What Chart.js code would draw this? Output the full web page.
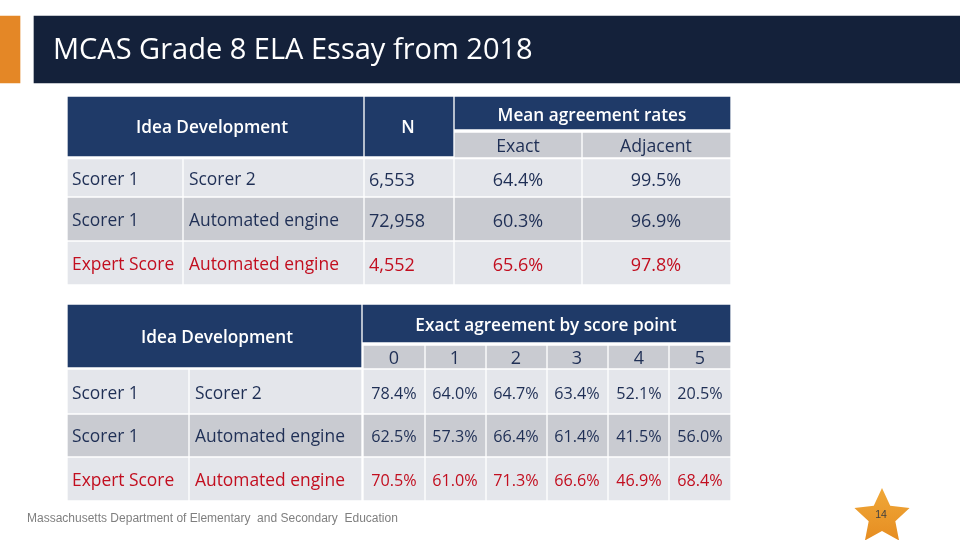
<!DOCTYPE html>
<html><head><meta charset="utf-8">
<style>html,body{margin:0;padding:0;background:#fff}canvas{display:block}</style>
<script src="https://cdn.jsdelivr.net/npm/chart.js@4"></script></head>
<body><canvas id="c" width="960" height="540"></canvas>
<script>
// ---- data ----
const titleText = "MCAS Grade 8 ELA Essay from 2018";
const sectionLabel = "Idea Development";
const pairFirst = ["Scorer 1", "Scorer 1", "Expert Score"];
const pairSecond = ["Scorer 2", "Automated engine", "Automated engine"];
const counts = ["6,553", "72,958", "4,552"];
const exactRates = [64.4, 60.3, 65.6];
const adjacentRates = [99.5, 96.9, 97.8];
const scorePoints = ["0", "1", "2", "3", "4", "5"];
const scoreRow1 = [78.4, 64.0, 64.7, 63.4, 52.1, 20.5];
const scoreRow2 = [62.5, 57.3, 66.4, 61.4, 41.5, 56.0];
const scoreRow3 = [70.5, 61.0, 71.3, 66.6, 46.9, 68.4];
const footerText = "Massachusetts Department of Elementary  and Secondary  Education";
const pageNumber = "14";

// ---- layout & style ----
const NAVY="#1f3a68", DARK="#14213a", ORANGE="#e48726", LIGHT="#e4e6eb", MID="#c9cbd1", INK="#1f2f55", RED="#c20e1f";
const FONT='"Open Sans"';
const t1Cols=[[68,182],[184,363],[365,453],[455,581],[583,730]];
const t1Rows=[[159.5,196,LIGHT],[198,240,MID],[242,284,LIGHT]];
const t2Left=[[68,188],[190,361]];
const t2Cols=[[364,424],[426,485],[487,546],[548,607],[609,668],[670,730]];
const t2Rows=[[370,413,LIGHT],[415,456,MID],[458,500,LIGHT]];
const rects=[
 [0,20,16,83,ORANGE],[34,960,16,83,DARK],
 [68,363,97,156,NAVY],[365,453,97,156,NAVY],[455,730,97,129,NAVY],
 [455,581,133,157,MID],[583,730,133,157,MID],
 [68,361,305,367,NAVY],[363,730,305,342,NAVY],
];
t1Rows.forEach(r=>t1Cols.forEach(c=>rects.push([c[0],c[1],r[0],r[1],r[2]])));
t2Cols.forEach(c=>rects.push([c[0],c[1],346,368,MID]));
t2Rows.forEach(r=>[...t2Left,...t2Cols].forEach(c=>rects.push([c[0],c[1],r[0],r[1],r[2]])));
// one floating bar per rectangle, drawn through the chart's scales
const datasets=rects.map(r=>({
  data:[{x:[r[0],r[1]],y:(r[2]+r[3])/2}],
  barThickness:r[3]-r[2], backgroundColor:r[4], borderWidth:0, borderSkipped:false
}));
const pct=v=>v.toFixed(1)+"%";

const textLayer={id:"textLayer",afterDatasetsDraw(chart){
  const {ctx,scales:{x:X,y:Y}}=chart;
  const put=(s,x,y,size,color,o={})=>{
    ctx.save();
    ctx.font=(o.bold?"600 ":"")+size+"px "+(o.font||FONT);
    ctx.fillStyle=color; ctx.textAlign=o.align||"center"; ctx.textBaseline="middle";
    if(o.ls) ctx.letterSpacing=o.ls+"px";
    ctx.fillText(s,X.getPixelForValue(x),Y.getPixelForValue(y+1.5));
    ctx.restore();
  };
  put(titleText,53,49,29,"#ffffff",{align:"left"});
  put(sectionLabel,212,127,17.2,"#ffffff",{bold:true});
  put("N",408,127,17.2,"#ffffff",{bold:true});
  put("Mean agreement rates",592,115,17.2,"#ffffff",{bold:true});
  put("Exact",518,145,17.7,INK);
  put("Adjacent",656,145,17.7,INK);
  const ys1=[179,220,264], ys2=[393,436,480];
  ys1.forEach((y,i)=>{
    const c=i==2?RED:INK;
    put(pairFirst[i],72,y,17.4,c,{align:"left"});
    put(pairSecond[i],189,y,17.4,c,{align:"left"});
    put(counts[i],369,y,18,c,{align:"left"});
    put(pct(exactRates[i]),518,y,18,c);
    put(pct(adjacentRates[i]),656,y,18,c);
  });
  put(sectionLabel,217,337,17.2,"#ffffff",{bold:true});
  put("Exact agreement by score point",546,325,17.2,"#ffffff",{bold:true});
  const cx=[394,455,516,577,639,700];
  scorePoints.forEach((s,i)=>put(s,cx[i],357,18,INK));
  [scoreRow1,scoreRow2,scoreRow3].forEach((row,i)=>{
    const c=i==2?RED:INK;
    put(pairFirst[i],72,ys2[i],17.4,c,{align:"left"});
    put(pairSecond[i],195,ys2[i],17.4,c,{align:"left"});
    row.forEach((v,j)=>put(pct(v),cx[j],ys2[i],16.2,c));
  });
  put(footerText,27,517,12,"#7f7f7f",{align:"left",font:'"Liberation Sans"'});
  // page star
  const px=X.getPixelForValue(882), py=Y.getPixelForValue(517), R=29, r=14;
  const g=ctx.createLinearGradient(0,py-R,0,py+R);
  g.addColorStop(0,"#f0a838"); g.addColorStop(1,"#e58a1f");
  ctx.beginPath();
  for(let i=0;i<10;i++){
    const a=-Math.PI/2+i*Math.PI/5, q=i%2?r:R;
    ctx[i?"lineTo":"moveTo"](px+q*Math.cos(a),py+q*Math.sin(a));
  }
  ctx.closePath(); ctx.fillStyle=g; ctx.fill();
  put(pageNumber,881,514,10.5,"#404040",{font:'"Liberation Sans"'});
}};

new Chart(document.getElementById("c"),{
  type:"bar",
  data:{datasets},
  plugins:[textLayer],
  options:{
    indexAxis:"y",responsive:false,animation:false,devicePixelRatio:1,
    layout:{padding:0},
    datasets:{bar:{grouped:false}},
    plugins:{legend:{display:false},tooltip:{enabled:false},title:{display:false}},
    scales:{
      x:{type:"linear",min:0,max:960,display:false,offset:false},
      y:{type:"linear",min:0,max:540,reverse:true,display:false,offset:false}
    }
  }
});
</script></body></html>
